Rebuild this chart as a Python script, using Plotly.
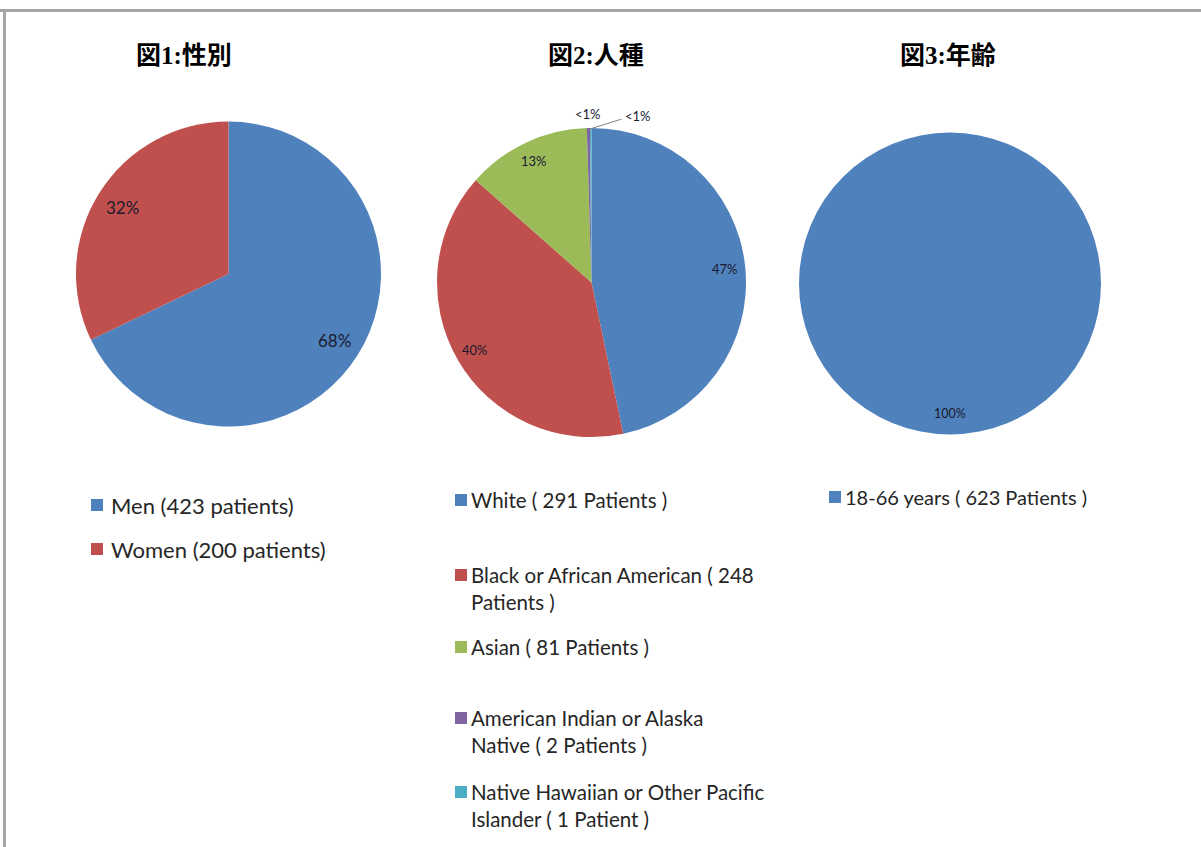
import math
import plotly.graph_objects as go

W, H = 1201, 847

# ---------------- data ----------------
titles = ["図1:性別", "図2:人種", "図3:年齢"]

sex_labels = ["Men (423 patients)", "Women (200 patients)"]
sex_values = [423, 200]

race_labels = ["White ( 291 Patients )",
               "Black or African American ( 248<br>Patients )",
               "Asian ( 81 Patients )",
               "American Indian or Alaska<br>Native ( 2 Patients )",
               "Native Hawaiian or Other Pacific<br>Islander ( 1 Patient )"]
race_values = [291, 248, 81, 2, 1]

age_labels = ["18-66 years ( 623 Patients )"]
age_values = [623]

# ---------------- styles ----------------
BLUE, RED, GREEN, PURPLE, TEAL = "#4F81BD", "#C0504D", "#9BBB59", "#8064A2", "#4BACC6"
sex_colors = [BLUE, RED]
race_colors = [BLUE, RED, GREEN, PURPLE, TEAL]
age_colors = [BLUE]

# pie geometry in pixels: (cx, cy, r)
pies = [
    dict(labels=sex_labels, values=sex_values, colors=sex_colors, cx=228.5, cy=274, r=152.5,
         lab_r=0.82, lab_size=17, title_x=184),
    dict(labels=race_labels, values=race_values, colors=race_colors, cx=591.5, cy=282.5, r=154.5,
         lab_r=0.87, lab_size=13, title_x=596),
    dict(labels=age_labels, values=age_values, colors=age_colors, cx=950, cy=283.5, r=151,
         lab_r=0.86, lab_size=12.5, title_x=948),
]

legend_cfg = [
    dict(sq_x=91, txt_x=109, ys=[505, 549], size=22),
    dict(sq_x=455, txt_x=469, ys=[500, 575, 647, 718, 792], size=20.5),
    dict(sq_x=829, txt_x=843, ys=[497], size=20),
]

def px(x):
    return x / W

def py(y):
    return 1 - y / H

fig = go.Figure()
annotations = []
shapes = []

LEGEND_FONT = "Lato, Open Sans, sans-serif"
LINE_H = 26

for i, p in enumerate(pies):
    cx, cy, r = p["cx"], p["cy"], p["r"]
    fig.add_trace(go.Pie(
        labels=p["labels"], values=p["values"],
        marker=dict(colors=p["colors"], line=dict(width=0)),
        sort=False, direction="clockwise", rotation=0,
        textinfo="none", hoverinfo="label+percent", showlegend=False,
        domain=dict(x=[px(cx - r), px(cx + r)], y=[py(cy + r), py(cy - r)]),
    ))
    # percentage labels
    total = sum(p["values"])
    cum = 0
    small_idx = 0
    for lab, v in zip(p["labels"], p["values"]):
        frac = v / total
        mid = (cum + frac / 2) * 2 * math.pi
        cum += frac
        pct = frac * 100
        if pct < 1:
            txt = "&lt;1%"
            if small_idx == 0:
                lx = cx + 1.09 * r * math.sin(mid)
                ly = cy - 1.09 * r * math.cos(mid)
            else:
                lx = cx + 1.09 * r * math.sin(mid) + 47
                ly = cy - 1.09 * r * math.cos(mid) + 2
                # leader line
                ex = cx + r * math.sin(mid)
                ey = cy - r * math.cos(mid)
                shapes.append(dict(type="line", xref="paper", yref="paper",
                                   x0=px(ex - 1), y0=py(ey + 1), x1=px(lx - 16), y1=py(ly + 3),
                                   line=dict(color="#808080", width=1)))
            small_idx += 1
        else:
            txt = f"{round(pct)}%"
            lx = cx + p["lab_r"] * r * math.sin(mid)
            ly = cy - p["lab_r"] * r * math.cos(mid)
        annotations.append(dict(x=px(lx), y=py(ly), xref="paper", yref="paper",
                                text=txt, showarrow=False, xanchor="center", yanchor="middle",
                                font=dict(family="Lato, Open Sans, sans-serif",
                                          size=p["lab_size"], color="#1a1a2e")))
    # title
    annotations.append(dict(x=px(p["title_x"]), y=py(55), xref="paper", yref="paper",
                            text=f"<b>{titles[i]}</b>", showarrow=False,
                            xanchor="center", yanchor="middle",
                            font=dict(family="Times New Roman, Liberation Serif, Noto Sans CJK JP, serif",
                                      size=25, color="#000000")))
    # legend
    lg = legend_cfg[i]
    for lab, col, y in zip(p["labels"], p["colors"], lg["ys"]):
        nlines = lab.count("<br>") + 1
        shapes.append(dict(type="rect", xref="paper", yref="paper",
                           x0=px(lg["sq_x"]), x1=px(lg["sq_x"] + 12),
                           y0=py(y + 6), y1=py(y - 6),
                           fillcolor=col, line=dict(width=0)))
        annotations.append(dict(x=px(lg["txt_x"]), y=py(y + (nlines - 1) * LINE_H / 2),
                                xref="paper", yref="paper", text=lab, showarrow=False,
                                xanchor="left", yanchor="middle", align="left",
                                font=dict(family=LEGEND_FONT, size=lg["size"], color="#262626")))

# frame lines (top and left)
shapes.append(dict(type="line", xref="paper", yref="paper", x0=0, x1=1, y0=py(10.5), y1=py(10.5),
                   line=dict(color="#A6A6A6", width=3)))
shapes.append(dict(type="line", xref="paper", yref="paper", x0=px(4.5), x1=px(4.5), y0=py(9), y1=0,
                   line=dict(color="#A6A6A6", width=3)))

fig.update_layout(
    width=W, height=H,
    margin=dict(l=0, r=0, t=0, b=0),
    paper_bgcolor="white", plot_bgcolor="white",
    showlegend=False,
    annotations=annotations,
    shapes=shapes,
)

fig.write_html("out.html")
